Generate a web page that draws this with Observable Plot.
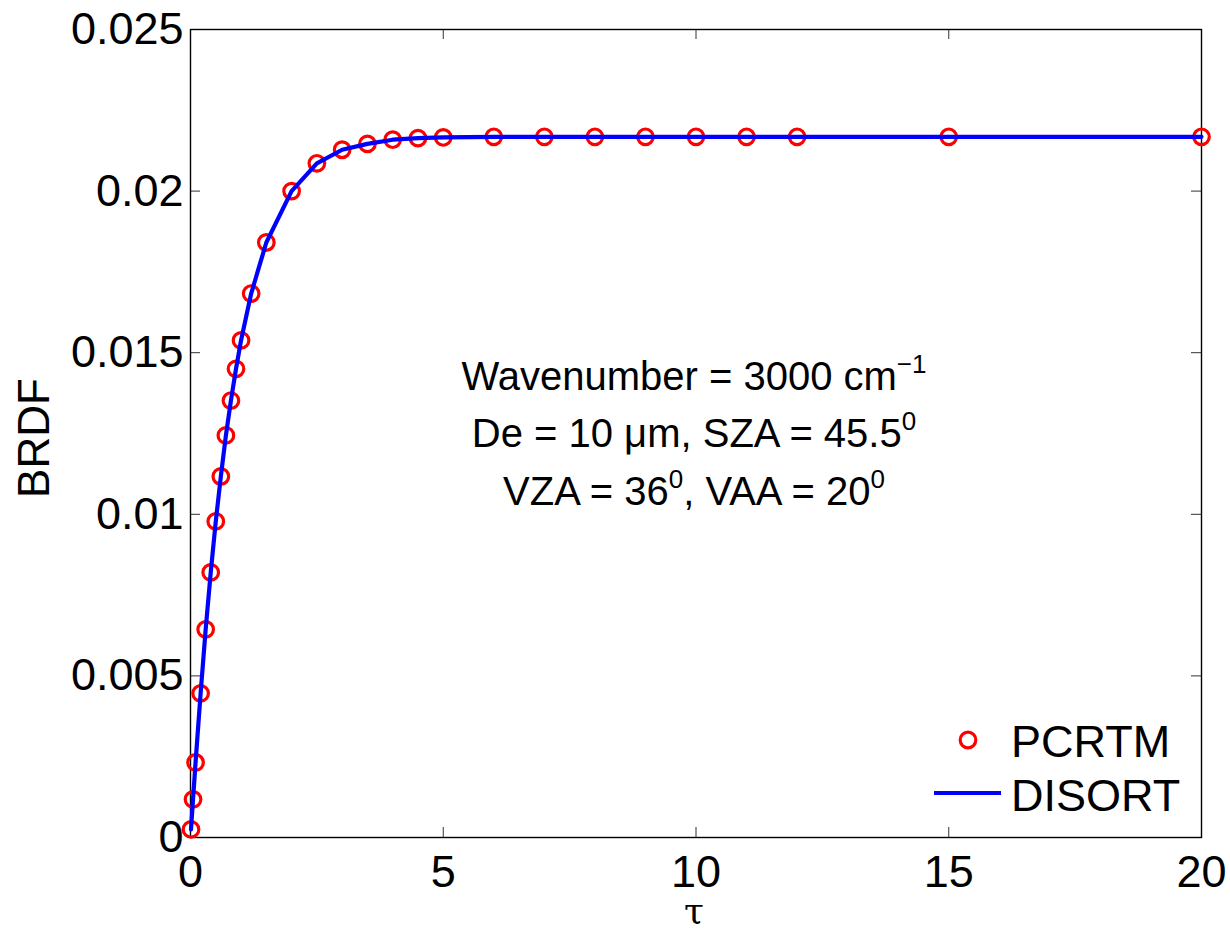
<!DOCTYPE html>
<html>
<head>
<meta charset="utf-8">
<script src="https://cdn.jsdelivr.net/npm/d3@7"></script>
<script src="https://cdn.jsdelivr.net/npm/@observablehq/plot@0.6"></script>
<style>
  html, body { margin: 0; padding: 0; background: white; }
  #chart { width: 1230px; height: 932px; }
</style>
</head>
<body>
<div id="chart"></div>
<script>
// ---- data ----
const tau = [0.01, 0.05, 0.1, 0.2, 0.3, 0.4, 0.5, 0.6, 0.7, 0.8, 0.9, 1.0, 1.2, 1.5, 2, 2.5, 3, 3.5, 4, 4.5, 5, 6, 7, 8, 9, 10, 11, 12, 15, 20];
const pcrtm = [0.00025, 0.00118, 0.00232, 0.00446, 0.00644, 0.0082, 0.00978, 0.01117, 0.01244, 0.01352, 0.0145, 0.01538, 0.01683, 0.01841, 0.0200, 0.02086, 0.02128, 0.02146, 0.02159, 0.02164, 0.02166, 0.02168, 0.02168, 0.02168, 0.02168, 0.02168, 0.02168, 0.02168, 0.02168, 0.02168];
const disort = [0.00025, 0.00118, 0.00232, 0.00446, 0.00644, 0.0082, 0.00978, 0.01117, 0.01244, 0.01352, 0.0145, 0.01538, 0.01683, 0.01841, 0.0200, 0.02086, 0.02128, 0.02146, 0.02159, 0.02164, 0.02166, 0.02168, 0.02168, 0.02168, 0.02168, 0.02168, 0.02168, 0.02168, 0.02168, 0.02168];
const xTicks = [0, 5, 10, 15, 20];
const yTicks = [0, 0.005, 0.01, 0.015, 0.02, 0.025];
const seriesNames = ["PCRTM", "DISORT"];
const xLabel = "τ";
const yLabel = "BRDF";

// ---- layout ----
const W = 1230, H = 932;
const mL = 190, mR = 29, mT = 29, mB = 95;
const pW = W - mL - mR, pH = H - mT - mB;
const FONT = "'Liberation Sans', Arial, Helvetica, sans-serif";

const pts = tau.map((t, i) => ({t, v: pcrtm[i]}));
const ln = tau.map((t, i) => ({t, v: disort[i]}));

const plot = Plot.plot({
  width: W, height: H,
  marginLeft: mL, marginRight: mR, marginTop: mT, marginBottom: mB,
  style: {fontFamily: FONT, fontSize: "45px", background: "white", color: "black", overflow: "visible"},
  x: {domain: [0, 20]},
  y: {domain: [0, 0.025]},
  marks: [
    Plot.axisX({ticks: xTicks, tickSize: 0, tickPadding: 18, tickFormat: d => String(d), label: null}),
    Plot.axisY({ticks: yTicks, tickSize: 0, tickPadding: 7, tickFormat: d => d === 0 ? "0" : String(d), label: null}),
    Plot.tickX(xTicks, {x: d => d, insetTop: pH - 10, stroke: "#333", strokeWidth: 1}),
    Plot.tickX(xTicks, {x: d => d, insetBottom: pH - 10, stroke: "#333", strokeWidth: 1}),
    Plot.tickY(yTicks, {y: d => d, insetRight: pW - 10, stroke: "#333", strokeWidth: 1}),
    Plot.tickY(yTicks, {y: d => d, insetLeft: pW - 10, stroke: "#333", strokeWidth: 1}),
    Plot.frame({stroke: "black", strokeWidth: 1.4}),
    Plot.dot(pts, {x: "t", y: "v", r: 7.8, stroke: "#ff0000", strokeWidth: 3.2, fill: "none"}),
    Plot.line(ln, {x: "t", y: "v", stroke: "#0000ff", strokeWidth: 4.2})
  ]
});

document.getElementById("chart").appendChild(plot);

// ---- axis labels, annotation and legend ----
const svg = d3.select(plot);

svg.append("text").attr("transform", "translate(694, 923)")
  .attr("text-anchor", "middle")
  .attr("font-family", "'DejaVu Serif', serif").attr("font-size", 36).attr("fill", "black")
  .text(xLabel);

svg.append("text").attr("transform", "translate(34, 438) rotate(-90)")
  .attr("text-anchor", "middle").attr("dy", "0.35em")
  .attr("font-family", FONT).attr("font-size", 44).attr("fill", "black")
  .text(yLabel);

const ann = svg.append("g").attr("font-family", FONT).attr("font-size", 40).attr("fill", "black").attr("text-anchor", "middle");
const cx = 694;

const l1 = ann.append("text").attr("x", cx).attr("y", 390);
l1.append("tspan").text("Wavenumber = 3000 cm");
l1.append("tspan").attr("dy", -17).attr("font-size", 26).text("−1");

const l2 = ann.append("text").attr("x", cx).attr("y", 447);
l2.append("tspan").text("De = 10 μm, SZA = 45.5");
l2.append("tspan").attr("dy", -17).attr("font-size", 26).text("0");

const l3 = ann.append("text").attr("x", cx).attr("y", 505);
l3.append("tspan").text("VZA = 36");
l3.append("tspan").attr("dy", -17).attr("font-size", 26).text("0");
l3.append("tspan").attr("dy", 17).text(", VAA = 20");
l3.append("tspan").attr("dy", -17).attr("font-size", 26).text("0");

const leg = svg.append("g").attr("font-family", FONT).attr("font-size", 45).attr("text-anchor", "start").attr("fill", "black");
leg.append("circle").attr("cx", 968).attr("cy", 740).attr("r", 7.8)
  .attr("fill", "none").attr("stroke", "#ff0000").attr("stroke-width", 3.2);
leg.append("text").attr("x", 1011).attr("y", 741).attr("dy", "0.35em").text(seriesNames[0]);
leg.append("line").attr("x1", 934).attr("x2", 1001).attr("y1", 793).attr("y2", 793)
  .attr("stroke", "#0000ff").attr("stroke-width", 4.2);
leg.append("text").attr("x", 1011).attr("y", 795).attr("dy", "0.35em").text(seriesNames[1]);
</script>
</body>
</html>
